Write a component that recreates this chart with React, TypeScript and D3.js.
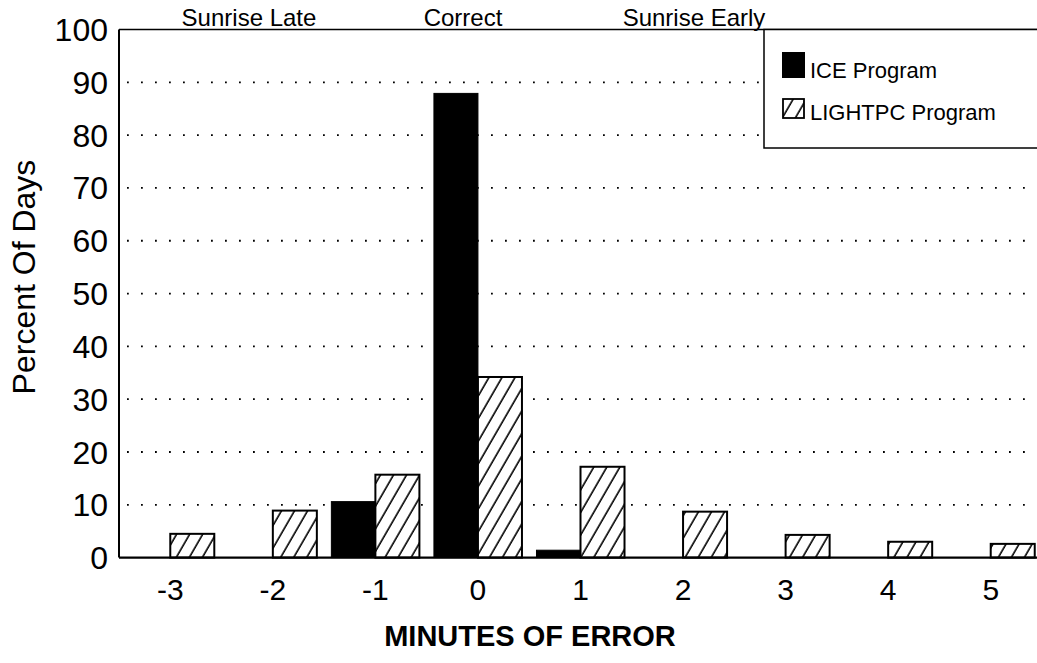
import React from "react";
import * as d3 from "d3";

const categories = ["-3", "-2", "-1", "0", "1", "2", "3", "4", "5"];
const iceValues = [0, 0, 10.6, 87.9, 1.4, 0, 0, 0, 0];
const lightpcValues = [4.5, 8.9, 15.7, 34.2, 17.2, 8.7, 4.3, 3.0, 2.6];
const seriesNames = ["ICE Program", "LIGHTPC Program"];
const yTicks = [0, 10, 20, 30, 40, 50, 60, 70, 80, 90, 100];
const gridTicks = [10, 20, 30, 40, 50, 60, 70, 80, 90];
const topLabels = [
  { text: "Sunrise Late", x: 249 },
  { text: "Correct", x: 463 },
  { text: "Sunrise Early", x: 694 },
];

const W = 1037;
const H = 663;
const left = 119;
const top = 29.5;
const bottom = 557.6;
const rightEdge = 1042;
const font = "'Liberation Sans', Arial, Helvetica, sans-serif";

export default function App() {
  const x = d3.scaleBand<string>().domain(categories).range([left, rightEdge]).paddingInner(0).paddingOuter(0);
  const inner = d3.scaleBand<string>().domain(seriesNames).range([0, x.bandwidth()]).paddingInner(0).paddingOuter(0.165);
  const y = d3.scaleLinear().domain([0, 100]).range([bottom, top]);

  return (
    <svg width={W} height={H} style={{ position: "absolute", left: 0, top: 0, background: "#fff" }}>
      <defs>
        <pattern id="hatch" patternUnits="userSpaceOnUse" width={11.3} height={11.3} patternTransform="rotate(30)">
          <rect width={11.3} height={11.3} fill="#fff" />
          <line x1={2} y1={0} x2={2} y2={11.3} stroke="#000" strokeWidth={1.6} />
        </pattern>
      </defs>

      {/* grid */}
      {gridTicks.map((t) => (
        <line key={t} x1={left + 8} x2={W} y1={y(t)} y2={y(t)} stroke="#000" strokeWidth={1.8} strokeDasharray="1.8,12.2" />
      ))}

      {/* bars */}
      {categories.map((c, i) => (
        <g key={c}>
          {iceValues[i] > 0 && (
            <rect
              x={(x(c) as number) + (inner("ICE Program") as number)}
              y={y(iceValues[i])}
              width={inner.bandwidth()}
              height={y(0) - y(iceValues[i])}
              fill="#000"
              stroke="#000"
              strokeWidth={1}
            />
          )}
          <rect
            x={(x(c) as number) + (inner("LIGHTPC Program") as number)}
            y={y(lightpcValues[i])}
            width={inner.bandwidth()}
            height={y(0) - y(lightpcValues[i])}
            fill="url(#hatch)"
            stroke="#000"
            strokeWidth={2}
          />
        </g>
      ))}

      {/* axes frame */}
      <line x1={left} x2={left} y1={top} y2={bottom} stroke="#000" strokeWidth={2} />
      <line x1={left} x2={W} y1={bottom} y2={bottom} stroke="#000" strokeWidth={2.2} />
      <line x1={left} x2={W} y1={top} y2={top} stroke="#000" strokeWidth={1.5} />

      {/* y ticks */}
      {yTicks.map((t) => (
        <text key={t} x={108} y={y(t)} dy="0.36em" textAnchor="end" fontFamily={font} fontSize={32} fill="#000">
          {t}
        </text>
      ))}

      {/* x ticks */}
      {categories.map((c) => (
        <text key={c} x={(x(c) as number) + x.bandwidth() / 2} y={600} textAnchor="middle" fontFamily={font} fontSize={30} fill="#000">
          {c}
        </text>
      ))}

      {/* top labels */}
      {topLabels.map((l) => (
        <text key={l.text} x={l.x} y={26} textAnchor="middle" fontFamily={font} fontSize={24} fill="#000">
          {l.text}
        </text>
      ))}

      {/* axis titles */}
      <text transform="translate(35,277) rotate(-90)" textAnchor="middle" fontFamily={font} fontSize={32} fill="#000">
        Percent Of Days
      </text>
      <text x={530} y={646} textAnchor="middle" fontFamily={font} fontSize={29} fontWeight="bold" fill="#000">
        MINUTES OF ERROR
      </text>

      {/* legend */}
      <rect x={764} y={29.5} width={290} height={118.5} fill="#fff" stroke="#000" strokeWidth={1.5} />
      <rect x={782} y={52} width={23} height={26} fill="#000" />
      <text x={810} y={78} fontFamily={font} fontSize={22} fill="#000">
        {seriesNames[0]}
      </text>
      <rect x={783} y={99} width={21} height={19} fill="url(#hatch)" stroke="#000" strokeWidth={1.8} />
      <text x={810} y={120} fontFamily={font} fontSize={22} fill="#000">
        {seriesNames[1]}
      </text>
    </svg>
  );
}
